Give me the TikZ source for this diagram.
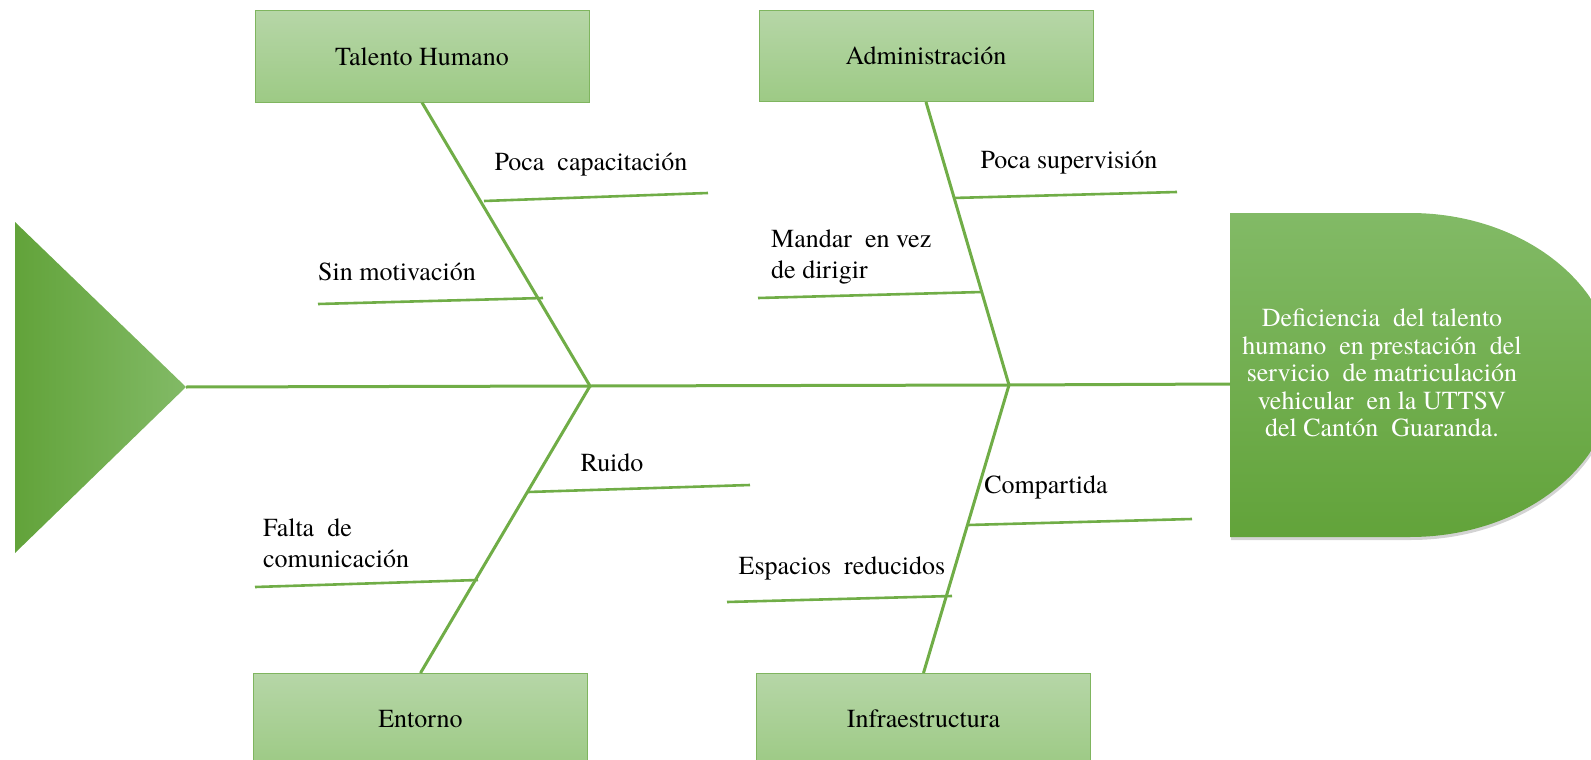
\documentclass[tikz,border=0pt]{standalone}
\usepackage{fontspec}
\IfFontExistsTF{texgyretermes-regular.otf}
  {\setmainfont{texgyretermes}[Extension=.otf, UprightFont=*-regular,
     BoldFont=*-bold, ItalicFont=*-italic, BoldItalicFont=*-bolditalic]}
  {}
\usetikzlibrary{positioning,shadows}
\definecolor{bone}    {HTML}{70AD47}
\definecolor{boxtop}  {HTML}{B6D6A7}
\definecolor{boxbot}  {HTML}{9DCA85}
\definecolor{boxline} {HTML}{7FB55F}
\definecolor{headtop} {HTML}{82BA66}
\definecolor{headbot} {HTML}{62A33A}
\tikzset{
  every node/.style={font=\fontsize{26}{31}\selectfont},
  % --- nodes
  cat/.style   = {draw=boxline, line width=1pt, top color=boxtop, bottom color=boxbot,
                  minimum width=334pt, minimum height=91pt, inner sep=0pt},
  cause/.style = {inner sep=0pt, align=left},
  effect/.style= {inner sep=0pt, align=center, text=white,
                  font=\fontsize{26}{27.4}\selectfont},
  % --- edges
  spine/.style = {draw=bone, line width=3pt},
  rib/.style   = {draw=bone, line width=2.6pt},
}
\begin{document}
\begin{tikzpicture}[x=1pt,y=-1pt]
  \useasboundingbox (0,0) rectangle (1591,760);

  % tail and head
  \shade[left color=headbot, right color=headtop] (15,222) -- (186,387) -- (15,553) -- cycle;
  \coordinate (tail) at (186,387);
  \path[top color=headtop, bottom color=headbot,
        drop shadow={shadow xshift=1pt, shadow yshift=-3pt, opacity=.35}]
    (1230,213) -- (1410,213) arc[start angle=90, end angle=-90, x radius=205pt, y radius=162pt]
    -- (1230,537) -- cycle;
  \coordinate (head) at (1230,384);
  \node[effect] (eff) at (1382,373) {Deficiencia \ del talento\\humano \ en prestación \ del\\
    servicio \ de matriculación\\vehicular \ en la UTTSV\\del Cantón \ Guaranda.};

  % categories
  \node[cat] (th) at (422,56.5) {Talento Humano};
  \node[cat] (ad) at (926,56) {Administración};
  \node[cat] (en) at (420.5,719) {Entorno};
  \node[cat] (inf) at (923.5,719) {Infraestructura};

  \coordinate (j1) at (590,386);
  \coordinate (j2) at (1009,385);
  \draw[spine] (tail) -- (j1) -- (j2) -- (head);
  \draw[spine] (th.south) -- (j1) -- (en.north);
  \draw[spine] (ad.south) -- (j2) -- (inf.north);

  % causes
  \draw[rib] (484,201) -- (708,193);
  \node[cause] (c1) at (591,165) {Poca \ capacitación};
  \draw[rib] (318,304) -- (543,298);
  \node[cause] (c2) at (397,272) {Sin motivación};
  \draw[rib] (953,198) -- (1177,192);
  \node[cause] (c3) at (1069,163) {Poca supervisión};
  \draw[rib] (758,298) -- (982,292);
  \node[cause, anchor=west] (c4) at (771,257) {Mandar \ en vez\\de dirigir};
  \draw[rib] (528,492) -- (750,485);
  \node[cause] (c5) at (612,463) {Ruido};
  \draw[rib] (255,587) -- (478,580);
  \node[cause, anchor=west] (c6) at (263,543) {Falta \ de\\comunicación};
  \draw[rib] (968,525) -- (1192,519);
  \node[cause] (c7) at (1046,487) {Compartida};
  \draw[rib] (727,602) -- (952,596);
  \node[cause] (c8) at (842,568) {Espacios \ reducidos};
\end{tikzpicture}
\end{document}
